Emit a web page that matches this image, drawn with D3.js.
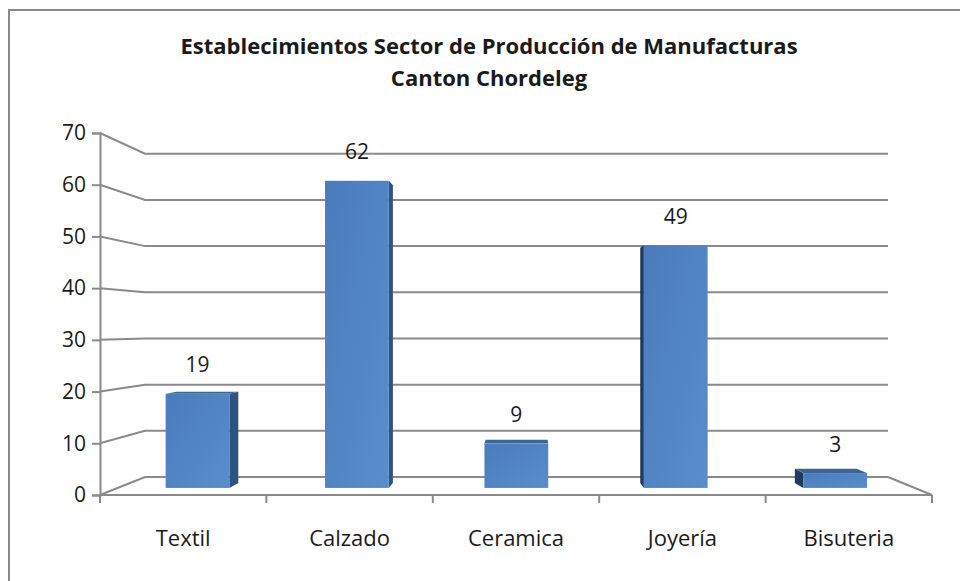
<!DOCTYPE html>
<html>
<head>
<meta charset="utf-8">
<script src="https://cdn.jsdelivr.net/npm/d3@7/dist/d3.min.js"></script>
<style>
  html, body { margin: 0; padding: 0; background: #fff; }
  svg { display: block; }
  text { font-family: "Open Sans", "Liberation Sans", sans-serif; fill: #1a1a1a; }
</style>
</head>
<body>
<svg id="chart" width="960" height="581"></svg>
<script>
// ---- data ----
const categories = ["Textil", "Calzado", "Ceramica", "Joyería", "Bisuteria"];
const values = [19, 62, 9, 49, 3];
const yTicks = [0, 10, 20, 30, 40, 50, 60, 70];
const titleLines = ["Establecimientos Sector de Producción de Manufacturas", "Canton Chordeleg"];

// ---- layout ----
const W = 960, H = 581;
const svg = d3.select("#chart");

// outer frame (only top and left visible)
svg.append("path")
  .attr("d", `M9,${H} L9,10 L${W},10`)
  .attr("fill", "none").attr("stroke", "#8a8a8a").attr("stroke-width", 2);

// front-plane scales
const x = d3.scaleBand().domain(categories).range([100, 932]).paddingInner(0.6).paddingOuter(0.3);
const y = d3.scaleLinear().domain([0, 70]).range([495, 133]);

// perspective
const vp = [524, 327];
const sBack = 0.893, sBarFront = 0.958, sBarBack = 0.929;
const proj = (px, py, s) => [vp[0] + (px - vp[0]) * s, vp[1] + (py - vp[1]) * s];

const gridColor = "#8a8a8a";
const xL = x.range()[0], xR = x.range()[1];
const backL = 145, backR = 888;

// gridlines: front-left -> back-left -> back-right
const grid = svg.append("g");
yTicks.forEach(v => {
  const yb = proj(xL, y(v), sBack)[1];
  grid.append("path")
    .attr("d", `M${xL},${y(v)} L${backL},${yb} L${backR},${yb}`)
    .attr("fill", "none").attr("stroke", gridColor).attr("stroke-width", 2);
});
// floor right edge and front edge
{
  const yb = proj(xR, y(0), sBack)[1];
  grid.append("path")
    .attr("d", `M${backR},${yb} L${xR},${y(0)} L${xL},${y(0)}`)
    .attr("fill", "none").attr("stroke", gridColor).attr("stroke-width", 2);
}
// vertical axis
const yAxis = d3.axisLeft(y).tickValues(yTicks).tickSize(8).tickPadding(6);
const gy = svg.append("g").attr("transform", `translate(${xL},0)`).call(yAxis);
gy.select(".domain").attr("stroke", gridColor).attr("stroke-width", 2);
gy.selectAll(".tick line").attr("stroke", gridColor).attr("stroke-width", 2);
gy.selectAll(".tick text").attr("font-size", 21).attr("fill", "#1a1a1a")
  .style("font-family", "'Open Sans', sans-serif");

// category axis ticks (boundaries)
const step = x.step();
const bounds = d3.range(categories.length + 1).map(i => xL + i * step);
svg.append("g").selectAll("line").data(bounds).join("line")
  .attr("x1", d => d).attr("x2", d => d)
  .attr("y1", y(0)).attr("y2", y(0) + 8)
  .attr("stroke", gridColor).attr("stroke-width", 2);
svg.append("g").selectAll("text").data(categories).join("text")
  .attr("x", d => x(d) + x.bandwidth() / 2)
  .attr("y", 540)
  .attr("text-anchor", "middle").attr("dominant-baseline", "middle")
  .attr("font-size", 22)
  .text(d => d);

// bars
const defs = svg.append("defs");
const grad = defs.append("linearGradient").attr("id", "frontGrad")
  .attr("x1", "0").attr("y1", "0").attr("x2", "1").attr("y2", "1");
grad.append("stop").attr("offset", "0%").attr("stop-color", "#4a7cbb");
grad.append("stop").attr("offset", "100%").attr("stop-color", "#5a8dcc");

const bars = svg.append("g");
const poly = pts => "M" + pts.map(p => p.join(",")).join("L") + "Z";
categories.forEach((c, i) => {
  const v = values[i];
  const x0 = x(c), x1 = x(c) + x.bandwidth();
  const yb = y(0), yt = y(v);
  const F = (px, py) => proj(px, py, sBarFront);
  const B = (px, py) => proj(px, py, sBarBack);
  const g = bars.append("g");
  // side face
  if (x1 < vp[0]) {
    g.append("path").attr("d", poly([F(x1, yt), B(x1, yt), B(x1, yb), F(x1, yb)]))
      .attr("fill", "#2f5380");
  } else if (x0 > vp[0]) {
    g.append("path").attr("d", poly([F(x0, yt), B(x0, yt), B(x0, yb), F(x0, yb)]))
      .attr("fill", "#203a5c");
  }
  // top face
  if (yt > vp[1]) {
    g.append("path").attr("d", poly([F(x0, yt), F(x1, yt), B(x1, yt), B(x0, yt)]))
      .attr("fill", "#3c6597");
  }
  // front face
  const a = F(x0, yt), b = F(x1, yb);
  g.append("rect").attr("x", a[0]).attr("y", a[1])
    .attr("width", b[0] - a[0]).attr("height", b[1] - a[1])
    .attr("fill", "url(#frontGrad)");
  // value label
  const lp = F((x0 + x1) / 2, yt);
  g.append("text").attr("x", lp[0]).attr("y", lp[1] - 27)
    .attr("text-anchor", "middle").attr("dominant-baseline", "middle")
    .attr("font-size", 21).text(v);
});

// title
svg.append("g").selectAll("text").data(titleLines).join("text")
  .attr("x", 489).attr("y", (d, i) => 48 + i * 32)
  .attr("text-anchor", "middle").attr("dominant-baseline", "middle")
  .attr("font-weight", "bold").attr("font-size", 22)
  .style("letter-spacing", "0px")
  .text(d => d);
</script>
</body>
</html>
